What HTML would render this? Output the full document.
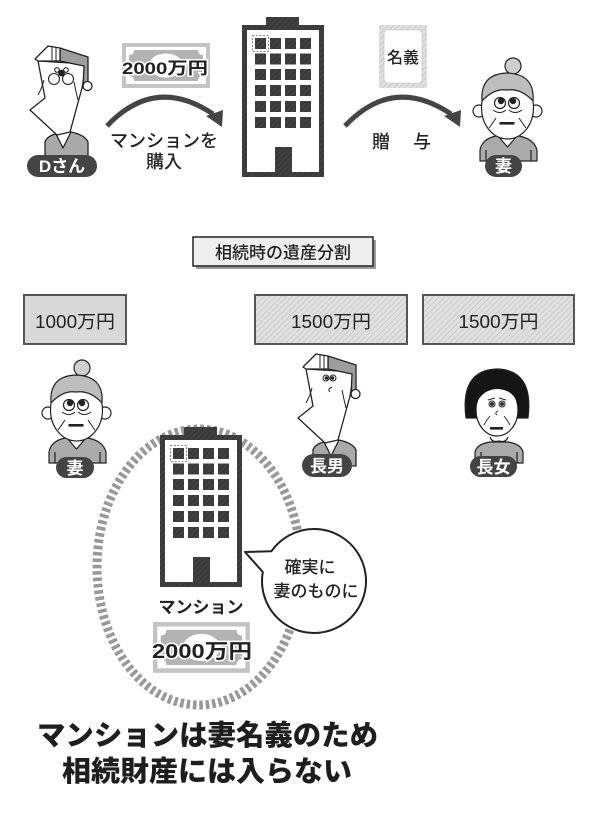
<!DOCTYPE html>
<html><head><meta charset="utf-8"><style>
html,body{margin:0;padding:0;background:#fff;}
svg{display:block;}
text{font-family:"Liberation Sans","Noto Sans CJK JP",sans-serif;}
</style></head><body>
<svg width="600" height="815" viewBox="0 0 600 815" xmlns="http://www.w3.org/2000/svg">
<defs>
<pattern id="hatch" width="4" height="4" patternUnits="userSpaceOnUse" patternTransform="rotate(45)">
<rect width="4" height="4" fill="#e0e0e0"/><line x1="0" y1="0" x2="0" y2="4" stroke="#c6c6c6" stroke-width="1.6"/></pattern>
<pattern id="hatchD" width="4" height="4" patternUnits="userSpaceOnUse" patternTransform="rotate(45)">
<rect width="4" height="4" fill="#3a3a3a"/><line x1="0" y1="0" x2="0" y2="4" stroke="#4a4a4a" stroke-width="1.4"/></pattern>
<g id="bldg">
<rect x="24" y="-8" width="33" height="9" fill="url(#hatchD)"/>
<rect x="0" y="0" width="82" height="152" fill="url(#hatchD)"/>
<rect x="5" y="5" width="72" height="142" fill="#fff"/>
<g fill="url(#hatchD)">
<rect x="13" y="13" width="11" height="11"/><rect x="28" y="13" width="11" height="11"/><rect x="43" y="13" width="11" height="11"/><rect x="58" y="13" width="11" height="11"/>
<rect x="13" y="28.5" width="11" height="11"/><rect x="28" y="28.5" width="11" height="11"/><rect x="43" y="28.5" width="11" height="11"/><rect x="58" y="28.5" width="11" height="11"/>
<rect x="13" y="44" width="11" height="11"/><rect x="28" y="44" width="11" height="11"/><rect x="43" y="44" width="11" height="11"/><rect x="58" y="44" width="11" height="11"/>
<rect x="13" y="60" width="11" height="11"/><rect x="28" y="60" width="11" height="11"/><rect x="43" y="60" width="11" height="11"/><rect x="58" y="60" width="11" height="11"/>
<rect x="13" y="76" width="11" height="11"/><rect x="28" y="76" width="11" height="11"/><rect x="43" y="76" width="11" height="11"/><rect x="58" y="76" width="11" height="11"/>
<rect x="13" y="92" width="11" height="11"/><rect x="28" y="92" width="11" height="11"/><rect x="43" y="92" width="11" height="11"/><rect x="58" y="92" width="11" height="11"/>
<rect x="33" y="122" width="17" height="30"/>
</g>
<rect x="10.5" y="10.5" width="16" height="16" fill="none" stroke="#666" stroke-width="0.8" stroke-dasharray="2 1.5"/>
</g>
<g id="bill">
<rect x="0" y="0" width="88" height="45" fill="#c4c4c4"/>
<rect x="4" y="4" width="80" height="37" fill="#fff"/>
<path d="M12,7 H76 Q76,12 81,12 V33 Q76,33 76,38 H12 Q12,33 7,33 V12 Q12,12 12,7 Z" fill="#b3b3b3"/>
<ellipse cx="44" cy="22.5" rx="17" ry="12" fill="#fff"/>
</g>
<g id="man" stroke="#222" stroke-width="1.3" stroke-linejoin="round">
<path d="M45,158 L45,142 Q47,136 56,134 L71,132 Q85,135 88,142 L88,158 Z" fill="#a9a9a9"/>
<path d="M56,134 L63,148 L71,132" fill="#fff"/>
<path d="M38,61 L45,98 L30,110 L57,135 L70,132 L82,88 L86,64 Z" fill="#fff"/>
<path d="M60,48 L88,57 L88,86 L83,88 L84,66 L60,61 Z" fill="#9d9d9d"/>
<path d="M35,59 L48,46 L60,48 L60,61 L38,61 Z" fill="#fff"/>
<line x1="52" y1="46.5" x2="52" y2="60" stroke-width="1"/><line x1="56" y1="47" x2="56" y2="60.5" stroke-width="1"/>
<circle cx="87.5" cy="86" r="4.5" fill="#fff"/>
<path d="M44,80 Q42,88 38,95" fill="none" stroke-width="1"/>
<path d="M74,82 Q76,92 78,100" fill="none" stroke-width="1"/>
</g>
<g id="wife" stroke="#222" stroke-width="1.2" stroke-linejoin="round">
<path d="M480,161 L480,150 Q482,139 496,136 L519,136 Q534,139 537,150 L537,161 Z" fill="#ababab"/>
<path d="M498,136 L507.5,147 L517,136" fill="#fff"/>
<line x1="486" y1="150" x2="486" y2="161"/><line x1="531" y1="150" x2="531" y2="161"/>
<circle cx="513" cy="66" r="8" fill="#cfcfcf"/>
<circle cx="479" cy="111" r="6" fill="#fff"/>
<circle cx="536" cy="111" r="6" fill="#fff"/>
<ellipse cx="507.5" cy="108" rx="26" ry="31" fill="#fff"/>
<path d="M482,101 Q480,74 507,73 Q535,74 533,101 Q521,88 507,90 Q494,88 482,101 Z" fill="#bdbdbd"/>
<circle cx="500" cy="103" r="5.5" fill="#fff"/><circle cx="514" cy="103" r="5.5" fill="#fff"/>
<circle cx="501" cy="101" r="2.6" fill="#222"/><circle cx="513" cy="101" r="2.6" fill="#222"/>
<path d="M493,110 Q500,115 506,110 M509,110 Q515,115 522,110" fill="none" stroke-width="1"/>
<path d="M496,118 Q492,124 489,128 M519,118 Q523,124 526,128" fill="none" stroke-width="1"/>
<rect x="499.5" y="122" width="15" height="2.6" fill="#222" stroke="none"/>
</g>
</defs>

<!-- ===== TOP ===== -->
<use href="#man"/>
<g stroke="#222" stroke-width="1.1">
<circle cx="54" cy="79" r="5.5" fill="#fff"/><circle cx="68" cy="79" r="5.5" fill="#fff"/>
<circle cx="57" cy="70" r="2.3" fill="#fff"/><circle cx="66" cy="70" r="2.3" fill="#fff"/>
</g>
<circle cx="61.5" cy="73" r="3.4" fill="#222"/>
<rect x="27" y="155" width="70" height="22" rx="11" fill="#444"/>
<text x="62" y="172" font-size="17" font-weight="bold" fill="#fff" text-anchor="middle">Dさん</text>

<use href="#bill" x="122" y="43"/>
<text x="165" y="74" font-size="17" font-weight="bold" fill="#222" text-anchor="middle" stroke="#fff" stroke-width="3" paint-order="stroke" textLength="86" lengthAdjust="spacingAndGlyphs">2000万円</text>

<path d="M107,126 Q155,75 213,114" fill="none" stroke="#454545" stroke-width="5"/>
<polygon points="206,116 223,110 222,127" fill="#454545"/>
<text x="164" y="147" font-size="18" fill="#222" text-anchor="middle" font-weight="500">マンションを</text>
<text x="164" y="168" font-size="18" fill="#222" text-anchor="middle" font-weight="500">購入</text>

<use href="#bldg" x="242" y="25"/>

<rect x="379" y="25" width="48" height="63" fill="url(#hatch)"/>
<rect x="384" y="30" width="38" height="53" rx="4" fill="#fff" stroke="#bbb" stroke-width="0.6"/>
<text x="403" y="63" font-size="16" fill="#222" text-anchor="middle" font-weight="500">名義</text>

<path d="M345,126 Q393,75 451,114" fill="none" stroke="#454545" stroke-width="5"/>
<polygon points="444,116 461,110 460,127" fill="#454545"/>
<text x="381" y="148" font-size="18" fill="#222" text-anchor="middle" font-weight="500">贈</text>
<text x="422" y="148" font-size="18" fill="#222" text-anchor="middle" font-weight="500">与</text>

<use href="#wife"/>
<rect x="485" y="155" width="37" height="22" rx="11" fill="#444"/>
<text x="503.5" y="172" font-size="17" font-weight="bold" fill="#fff" text-anchor="middle">妻</text>

<!-- ===== MIDDLE ===== -->
<rect x="196" y="240" width="180" height="29" fill="#9a9a9a"/>
<rect x="193" y="237" width="180" height="29" fill="#eeeeee" stroke="#222" stroke-width="1.5"/>
<text x="283" y="258.5" font-size="17" fill="#222" text-anchor="middle" font-weight="500">相続時の遺産分割</text>

<rect x="24" y="295" width="102" height="49" fill="#d9d9d9" stroke="#555" stroke-width="2"/>
<text x="75" y="328" font-size="18" fill="#222" text-anchor="middle" textLength="80" lengthAdjust="spacingAndGlyphs">1000万円</text>
<rect x="255" y="295" width="152" height="49" fill="url(#hatch)" stroke="#555" stroke-width="2"/>
<text x="331" y="328" font-size="18" fill="#222" text-anchor="middle" textLength="80" lengthAdjust="spacingAndGlyphs">1500万円</text>
<rect x="423" y="295" width="151" height="49" fill="url(#hatch)" stroke="#555" stroke-width="2"/>
<text x="498.5" y="328" font-size="18" fill="#222" text-anchor="middle" textLength="80" lengthAdjust="spacingAndGlyphs">1500万円</text>

<!-- wife middle -->
<use href="#wife" transform="translate(-431,302)"/>
<rect x="56" y="457" width="38" height="21" rx="10.5" fill="#444"/>
<text x="75" y="474" font-size="17" font-weight="bold" fill="#fff" text-anchor="middle">妻</text>

<!-- eldest son -->
<use href="#man" transform="translate(268,308)"/>
<circle cx="326" cy="378" r="3" fill="#fff" stroke="#222" stroke-width="1"/><circle cx="333" cy="378" r="3" fill="#fff" stroke="#222" stroke-width="1"/>
<circle cx="326.5" cy="378" r="1.8" fill="#222"/><circle cx="332.5" cy="378" r="1.8" fill="#222"/>
<path d="M332,387 Q327,389 330,392" fill="none" stroke="#222" stroke-width="1"/>
<rect x="302" y="454" width="50" height="23" rx="11.5" fill="#444"/>
<text x="327" y="472" font-size="17" font-weight="bold" fill="#fff" text-anchor="middle">長男</text>

<!-- eldest daughter -->
<g stroke="#222" stroke-width="1.2" stroke-linejoin="round">
<path d="M475,463 L475,452 Q477,444 490,442 L508,442 Q521,444 523,452 L523,463 Z" fill="#ababab"/>
<line x1="481" y1="452" x2="481" y2="463"/><line x1="517" y1="452" x2="517" y2="463"/>
<path d="M466,418 Q460,370 497,369 Q534,370 528,418 Z" fill="#151515"/>
<ellipse cx="497" cy="410" rx="21" ry="26" fill="#fff"/>
<path d="M490,437 Q492,443 499,441 Q506,443 508,437" fill="#fff"/>
</g>
<path d="M474,414 L474,396 Q478,379 497,378 Q517,379 521,396 L521,414 Q518,398 509,392 Q497,386 486,392 Q476,398 474,414 Z" fill="#151515"/>
<circle cx="492" cy="404" r="3" fill="#fff" stroke="#222" stroke-width="1"/><circle cx="502" cy="404" r="3" fill="#fff" stroke="#222" stroke-width="1"/>
<circle cx="492" cy="404" r="1.9" fill="#222"/><circle cx="502" cy="404" r="1.9" fill="#222"/>
<path d="M488,400 L495,398 M499,398 L506,400" stroke="#222" stroke-width="1"/>
<path d="M498,411 Q494,413 497,415" fill="none" stroke="#222" stroke-width="0.9"/>
<path d="M490,416 Q486,421 484,425 M504,416 Q508,421 510,425" fill="none" stroke="#222" stroke-width="0.9"/>
<rect x="490" y="427" width="13" height="2.6" fill="#222"/>
<rect x="470" y="456" width="47" height="21" rx="10.5" fill="#444"/>
<text x="493.5" y="473" font-size="17" font-weight="bold" fill="#fff" text-anchor="middle">長女</text>

<!-- ===== BOTTOM ===== -->
<ellipse cx="199" cy="567" rx="102" ry="138" fill="none" stroke="#999" stroke-width="9" stroke-dasharray="3.6 2.8"/>
<use href="#bldg" x="160" y="435"/>
<text x="201" y="613" font-size="17" font-weight="bold" fill="#222" text-anchor="middle">マンション</text>
<use href="#bill" transform="translate(153,622) scale(1.1,1.13)"/>
<text x="202" y="658" font-size="20" font-weight="bold" fill="#222" text-anchor="middle" stroke="#fff" stroke-width="3" paint-order="stroke" textLength="100" lengthAdjust="spacingAndGlyphs">2000万円</text>

<path d="M271.4,551.2 L245,552 L262.8,572 A52,52 0 1 0 271.4,551.2 Z" fill="#fff" stroke="#222" stroke-width="2" stroke-linejoin="round"/>
<text x="310" y="573" font-size="17" fill="#222" text-anchor="middle" font-weight="500">確実に</text>
<text x="316" y="597" font-size="17" fill="#222" text-anchor="middle" font-weight="500">妻のものに</text>

<text x="207.5" y="745" font-size="28.5" font-weight="900" fill="#1e1e1e" text-anchor="middle" textLength="341" lengthAdjust="spacingAndGlyphs">マンションは妻名義のため</text>
<text x="207" y="781" font-size="28.5" font-weight="900" fill="#1e1e1e" text-anchor="middle" textLength="290" lengthAdjust="spacingAndGlyphs">相続財産には入らない</text>
</svg>
</body></html>
